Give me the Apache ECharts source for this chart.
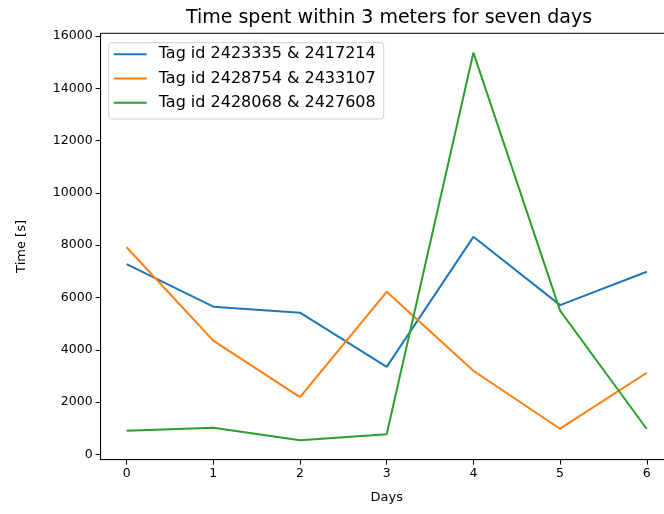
<!DOCTYPE html>
<html>
<head>
<meta charset="utf-8">
<script src="https://cdn.jsdelivr.net/npm/echarts@6/dist/echarts.min.js"></script>
<style>
  html, body { margin: 0; padding: 0; background: #fff; }
  #chart { width: 664px; height: 514px; }
</style>
</head>
<body>
<div id="chart"></div>
<script>
// Days on the x axis
const days = [0, 1, 2, 3, 4, 5, 6];

// Seconds spent within 3 meters, one value per day, per tag pair
const pairA = [7280, 5650, 5420, 3350, 8320, 5710, 6985];
const pairB = [7920, 4350, 2190, 6220, 3200, 985, 3125];
const pairC = [905, 1025, 545, 775, 15360, 5500, 975];

const seriesNames = [
  'Tag id 2423335 & 2417214',
  'Tag id 2428754 & 2433107',
  'Tag id 2428068 & 2427608'
];
const seriesValues = [pairA, pairB, pairC];
const seriesColors = ['#1f77b4', '#ff7f0e', '#2ca02c'];

// Tick labels
const xTicks = [0, 1, 2, 3, 4, 5, 6];
const yTicks = [0, 2000, 4000, 6000, 8000, 10000, 12000, 14000, 16000];

// Axis ranges padded by 5% of the data span on each side
const allValues = [].concat(...seriesValues);
const vMin = Math.min(...allValues), vMax = Math.max(...allValues);
const yPad = (vMax - vMin) * 0.05;
const xPad = (days[days.length - 1] - days[0]) * 0.05;

const font = 'DejaVu Sans';

const chart = echarts.init(document.getElementById('chart'), null, { renderer: 'canvas' });

chart.setOption({
  animation: false,
  backgroundColor: '#ffffff',
  title: {
    text: 'Time spent within 3 meters for seven days',
    left: 384,
    textAlign: 'center',
    top: 4,
    textStyle: { fontFamily: font, fontSize: 19, fontWeight: 'normal', color: '#000' }
  },
  legend: {
    orient: 'vertical',
    left: 108.7,
    top: 42.7,
    padding: [3.6, 8, 8.3, 5],
    itemGap: 8.2,
    itemWidth: 33,
    itemHeight: 2,
    icon: 'rect',
    borderColor: '#d0d0d0',
    borderWidth: 1,
    borderRadius: 3,
    backgroundColor: 'rgba(255,255,255,0.8)',
    textStyle: { fontFamily: font, fontSize: 16, color: '#000', lineHeight: 16, padding: [0, 0, 0, 7] },
    data: seriesNames
  },
  grid: {
    left: 100.6,
    width: 572.2,
    top: 33.3,
    height: 426.3,
    show: true,
    borderColor: '#000',
    borderWidth: 1,
    containLabel: false,
    outerBoundsMode: 'none'
  },
  xAxis: {
    type: 'value',
    min: days[0] - xPad,
    max: days[days.length - 1] + xPad,
    name: 'Days',
    nameLocation: 'middle',
    nameGap: 32,
    nameTextStyle: { fontFamily: font, fontSize: 13, color: '#000' },
    splitLine: { show: false },
    axisLine: { show: true, onZero: false, lineStyle: { color: '#000', width: 1 } },
    axisTick: { show: true, length: 5, inside: false, customValues: xTicks, lineStyle: { color: '#000' } },
    axisLabel: { show: true, margin: 8, customValues: xTicks, fontFamily: font, fontSize: 12.5, color: '#000' }
  },
  yAxis: {
    type: 'value',
    min: vMin - yPad,
    max: vMax + yPad,
    name: 'Time [s]',
    nameLocation: 'middle',
    nameGap: 72,
    nameTextStyle: { fontFamily: font, fontSize: 13, color: '#000' },
    splitLine: { show: false },
    axisLine: { show: true, onZero: false, lineStyle: { color: '#000', width: 1 } },
    axisTick: { show: true, length: 5, inside: false, customValues: yTicks, lineStyle: { color: '#000' } },
    axisLabel: {
      show: true, margin: 8, customValues: yTicks, fontFamily: font, fontSize: 12.5, color: '#000',
      formatter: (v) => String(Math.round(v))
    }
  },
  series: seriesValues.map((vals, i) => ({
    name: seriesNames[i],
    type: 'line',
    data: days.map((d, j) => [d, vals[j]]),
    showSymbol: false,
    symbol: 'none',
    color: seriesColors[i],
    lineStyle: { color: seriesColors[i], width: 2 },
    z: 2 + i
  }))
});
</script>
</body>
</html>
